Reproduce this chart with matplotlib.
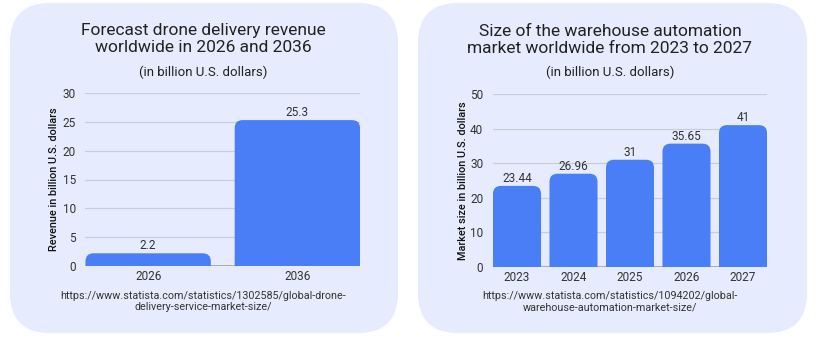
import matplotlib.pyplot as plt
from matplotlib.patches import FancyBboxPatch

plt.rcParams["font.family"] = ["Roboto", "DejaVu Sans"]

# left chart data
drone_years = ["2026", "2036"]
drone_revenue = [2.2, 25.3]
drone_labels = ["2.2", "25.3"]
drone_yticks = [0, 5, 10, 15, 20, 25, 30]

# right chart data
wh_years = ["2023", "2024", "2025", "2026", "2027"]
wh_size = [23.44, 26.96, 31, 35.65, 41]
wh_labels = ["23.44", "26.96", "31", "35.65", "41"]
wh_yticks = [0, 10, 20, 30, 40, 50]

W, H = 820, 338
PANEL = "#e6ecfd"
BAR = "#4a7ef6"
GRID = "#c9cdd8"
TXT = "#222222"

fig = plt.figure(figsize=(W / 100, H / 100), dpi=100)
bg = fig.add_axes([0, 0, 1, 1])
bg.set_xlim(0, W)
bg.set_ylim(H, 0)
bg.axis("off")

for x0, x1 in [(10, 398), (418, 807)]:
    bg.add_patch(FancyBboxPatch((x0, 3), x1 - x0, 330,
                                boxstyle="round,pad=0,rounding_size=40",
                                fc=PANEL, ec="none"))


def px_axes(x0, y0, x1, y1):
    return fig.add_axes([x0 / W, (H - y1) / H, (x1 - x0) / W, (y1 - y0) / H])


def bar_chart(ax, cats, vals, labels, yticks, width, ylabel):
    n = len(cats)
    ax.set_xlim(-width / 2, n - 1 + width / 2)
    ax.set_ylim(0, yticks[-1])
    ax.set_facecolor("none")
    for s in ax.spines.values():
        s.set_visible(False)
    ax.set_yticks(yticks)
    ax.set_xticks(range(n))
    ax.set_xticklabels(cats)
    ax.tick_params(length=0, labelsize=8.5, labelcolor="#333333")
    ax.tick_params(axis="y", pad=7)
    ax.tick_params(axis="x", pad=3)
    ax.grid(axis="y", color=GRID, lw=0.9)
    ax.set_axisbelow(True)
    ax.axhline(0, color="#a0a3ab", lw=1.2, zorder=1)

    bars = ax.bar(range(n), vals, width=width)
    # data units per pixel, to keep corners round
    p0 = ax.transData.inverted().transform((0, 0))
    p1 = ax.transData.inverted().transform((1, 1))
    dx, dy = p1[0] - p0[0], p1[1] - p0[1]
    r = 8 * dx
    for b, v, lab in zip(bars, vals, labels):
        b.set_visible(False)
        ax.add_patch(FancyBboxPatch((b.get_x(), -10 * dy), b.get_width(), v + 10 * dy,
                                    boxstyle=f"round,pad=0,rounding_size={r}",
                                    mutation_aspect=dy / dx,
                                    fc=BAR, ec="none", zorder=2))
        ax.text(b.get_x() + b.get_width() / 2, v + 1 * dy, lab,
                ha="center", va="bottom", fontsize=8.5, color="#333333")
    ax.set_ylabel(ylabel, fontsize=7.8, color="#111111", fontweight="medium")


ax1 = px_axes(85.5, 93, 360, 266)
bar_chart(ax1, drone_years, drone_revenue, drone_labels, drone_yticks, 0.84,
          "Revenue in billion U.S. dollars")
ax1.yaxis.set_label_coords(-0.095, 0.5)

ax2 = px_axes(493, 94, 767, 267)
bar_chart(ax2, wh_years, wh_size, wh_labels, wh_yticks, 0.85,
          "Market size in billion U.S. dollars")
ax2.yaxis.set_label_coords(-0.092, 0.5)

# titles, subtitles and sources
bg.text(203, 39, "Forecast drone delivery revenue\nworldwide in 2026 and 2036",
        ha="center", va="center", fontsize=12.5, color=TXT, linespacing=1.1)
bg.text(203, 72, "(in billion U.S. dollars)", ha="center", va="center",
        fontsize=9.5, color=TXT)
bg.text(203, 301.5, "https://www.statista.com/statistics/1302585/global-drone-\n"
        "delivery-service-market-size/", ha="center", va="center",
        fontsize=7.75, color="#333333", linespacing=1.15)

bg.text(610, 40, "Size of the warehouse automation\nmarket worldwide from 2023 to 2027",
        ha="center", va="center", fontsize=12.5, color=TXT, linespacing=1.1)
bg.text(610, 72, "(in billion U.S. dollars)", ha="center", va="center",
        fontsize=9.5, color=TXT)
bg.text(610, 302, "https://www.statista.com/statistics/1094202/global-\n"
        "warehouse-automation-market-size/", ha="center", va="center",
        fontsize=7.75, color="#333333", linespacing=1.15)

fig.savefig("out.png", dpi=100, facecolor="white")
